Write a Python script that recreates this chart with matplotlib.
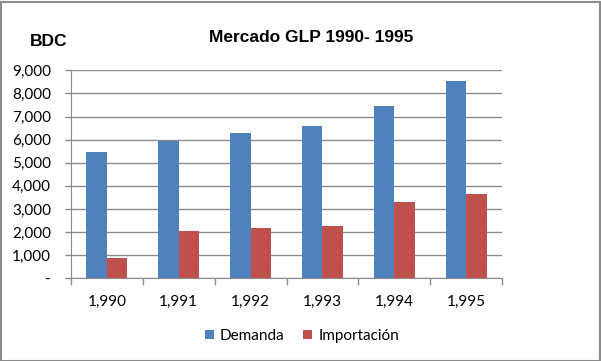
import numpy as np
import matplotlib
matplotlib.use('Agg')
import matplotlib.pyplot as plt
from matplotlib.patches import Rectangle
from matplotlib.ticker import FuncFormatter, FixedLocator

# data
years = ['1,990', '1,991', '1,992', '1,993', '1,994', '1,995']
demanda = [5470, 5945, 6290, 6590, 7460, 8540]
importacion = [880, 2030, 2175, 2265, 3300, 3650]

blue = '#4F81BD'
red = '#C0504D'
grid_c = '#8C8C8C'
tick_font = ['Lato', 'DejaVu Sans']
title_font = ['Liberation Sans Narrow', 'Liberation Sans']

fig = plt.figure(figsize=(6.01, 3.61), dpi=100)
ax = fig.add_axes([71/601, 82.7/361, 431/601, 208/361])

x = np.arange(len(years))
w = 0.286
ax.bar(x - w/2, demanda, w, color=blue, label='Demanda', zorder=3)
ax.bar(x + w/2, importacion, w, color=red, label='Importación', zorder=3)

ax.set_xlim(-0.5, len(years) - 0.5)
ax.set_ylim(0, 9000)
ax.set_yticks(np.arange(0, 9001, 1000))
ax.yaxis.set_major_formatter(FuncFormatter(lambda v, p: '-' if v == 0 else f'{int(v):,}'))
ax.yaxis.grid(True, color=grid_c, linewidth=1, zorder=0)
ax.set_xticks(x)
ax.set_xticklabels(years)
ax.xaxis.set_minor_locator(FixedLocator(np.arange(-0.5, len(years), 1)))
ax.tick_params(axis='x', which='major', length=0, pad=12)
ax.tick_params(axis='x', which='minor', length=5, color=grid_c, width=1)
ax.tick_params(axis='y', length=4, color=grid_c, width=1, pad=10.5)
for lab in ax.get_xticklabels() + ax.get_yticklabels():
    lab.set_family(tick_font)
    lab.set_fontsize(11)
for s in ['top', 'right']:
    ax.spines[s].set_visible(False)
for s in ['left', 'bottom']:
    ax.spines[s].set_color(grid_c)

fig.text(311/601, 1 - 37/361, 'Mercado GLP 1990- 1995', ha='center', va='center',
         fontsize=12.5, fontweight='bold', family=title_font)
fig.text(49/601, 1 - 41/361, 'BDC', ha='center', va='center',
         fontsize=12.5, fontweight='bold', family=title_font)

leg = ax.legend(loc='center', bbox_to_anchor=(302/601, 25/361),
                bbox_transform=fig.transFigure, ncol=2, frameon=False,
                prop={'family': tick_font, 'size': 11},
                handlelength=0.6, handleheight=0.6, handletextpad=0.4,
                columnspacing=1.2)

fig.patches.append(Rectangle((0.5/601, 0.5/361), 599/601, 359/361, transform=fig.transFigure,
                             fill=False, edgecolor='#8C8C8C', linewidth=1.5))

fig.savefig('out.png', dpi=100)
